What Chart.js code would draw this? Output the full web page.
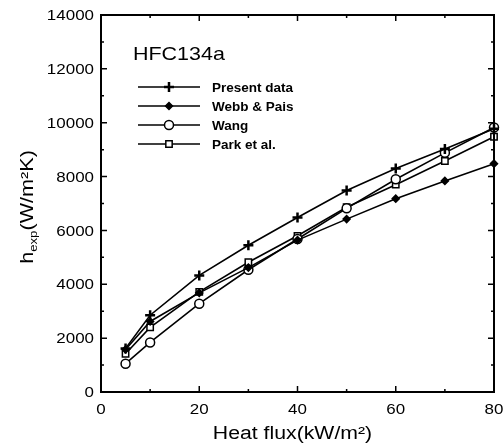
<!DOCTYPE html>
<html>
<head>
<meta charset="utf-8">
<script src="https://cdn.jsdelivr.net/npm/chart.js@4"></script>
<style>
  html, body { margin: 0; padding: 0; background: #fff; }
  #wrap { width: 504px; height: 445px; }
</style>
</head>
<body>
<div id="wrap"><canvas id="chart" width="504" height="445"></canvas></div>
<script>
// heat flux (kW/m2)
const heatFlux = [5, 10, 20, 30, 40, 50, 60, 70, 80];
// heat transfer coefficient (W/m2K)
const presentData = [1620, 2850, 4330, 5450, 6480, 7480, 8300, 9020, 9780];
const webbPais = [1580, 2620, 3680, 4620, 5640, 6420, 7180, 7840, 8480];
const wang = [1050, 1840, 3280, 4540, 5680, 6820, 7900, 8880, 9820];
const parkEtAl = [1420, 2400, 3720, 4820, 5800, 6860, 7700, 8580, 9480];

const xTicks = [0, 20, 40, 60, 80];
const yTicks = [0, 2000, 4000, 6000, 8000, 10000, 12000, 14000];

const FONT = 'Liberation Sans, Arial, sans-serif';

function points(ys) {
    return heatFlux.map((x, i) => ({ x: x, y: ys[i] }));
}

const datasets = [
    { label: 'Present data', data: points(presentData), pointStyle: 'cross', pointRadius: 5, pointBorderWidth: 2.5, pointBackgroundColor: '#000' },
    { label: 'Webb & Pais', data: points(webbPais), pointStyle: 'rectRot', pointRadius: 3.5, pointBorderWidth: 1.5, pointBackgroundColor: '#000' },
    { label: 'Wang', data: points(wang), pointStyle: 'circle', pointRadius: 4.5, pointBorderWidth: 1.5, pointBackgroundColor: '#fff' },
    { label: 'Park et al.', data: points(parkEtAl), pointStyle: 'rect', pointRadius: 4.5, pointBorderWidth: 1.5, pointBackgroundColor: '#fff' }
].map(d => Object.assign({
    borderColor: '#000',
    pointBorderColor: '#000',
    borderWidth: 1.6,
    fill: false,
    clip: false,
    tension: 0
}, d));

// the scanned figure uses a slightly wide sans font, so text gets stretched
function wideText(ctx, str, x, y, font, sx, align, baseline) {
    ctx.save();
    ctx.font = font;
    ctx.textAlign = align;
    ctx.textBaseline = baseline || 'alphabetic';
    ctx.translate(x, y);
    ctx.scale(sx, 1);
    ctx.fillText(str, 0, 0);
    ctx.restore();
}

// frame, inward ticks, tick labels, in-plot legend, title and axis titles
const decorations = {
    id: 'decorations',
    afterDraw(chart) {
        const ctx = chart.ctx;
        const a = chart.chartArea;
        const xs = chart.scales.x;
        const ys = chart.scales.y;
        ctx.save();
        ctx.strokeStyle = '#000';
        ctx.fillStyle = '#000';

        // frame
        ctx.lineWidth = 2;
        ctx.strokeRect(a.left, a.top, a.right - a.left, a.bottom - a.top);

        // ticks
        ctx.lineWidth = 1.5;
        ctx.beginPath();
        for (let v = 0; v <= 80; v += 10) {
            const px = xs.getPixelForValue(v);
            const len = v % 20 === 0 ? 6 : 3;
            ctx.moveTo(px, a.bottom); ctx.lineTo(px, a.bottom - len);
            ctx.moveTo(px, a.top); ctx.lineTo(px, a.top + len);
        }
        for (let v = 0; v <= 14000; v += 1000) {
            const py = ys.getPixelForValue(v);
            const len = v % 2000 === 0 ? 6 : 3;
            ctx.moveTo(a.left, py); ctx.lineTo(a.left + len, py);
            ctx.moveTo(a.right, py); ctx.lineTo(a.right - len, py);
        }
        ctx.stroke();

        // tick labels
        const tickFont = '15px ' + FONT;
        xTicks.forEach(v => {
            wideText(ctx, String(v), xs.getPixelForValue(v), a.bottom + 18, tickFont, 1.13, 'center', 'middle');
        });
        yTicks.forEach(v => {
            wideText(ctx, String(v), a.left - 7, ys.getPixelForValue(v) + 1, tickFont, 1.13, 'right', 'middle');
        });

        // title inside plot
        wideText(ctx, 'HFC134a', 133, 60, '19px ' + FONT, 1.13, 'left');

        // legend
        chart.data.datasets.forEach((ds, i) => {
            const y = 87 + i * 19;
            ctx.lineWidth = ds.borderWidth;
            ctx.beginPath();
            ctx.moveTo(138, y); ctx.lineTo(200, y);
            ctx.stroke();
            ctx.fillStyle = ds.pointBackgroundColor;
            ctx.lineWidth = ds.pointBorderWidth;
            Chart.helpers.drawPoint(ctx, {
                pointStyle: ds.pointStyle,
                radius: ds.pointRadius,
                rotation: 0,
                borderWidth: ds.pointBorderWidth
            }, 169, y);
            ctx.fillStyle = '#000';
            wideText(ctx, ds.label, 212, y + 1, 'bold 13.5px ' + FONT, 1, 'left', 'middle');
        });

        // x axis title
        wideText(ctx, 'Heat flux(kW/m\u00B2)', 292.5, 439, '18px ' + FONT, 1.18, 'center');

        // y axis title with subscript, rotated
        ctx.save();
        ctx.translate(33, 207);
        ctx.rotate(-Math.PI / 2);
        ctx.scale(1.2, 1);
        const big = '18px ' + FONT;
        const small = '11px ' + FONT;
        ctx.font = big;
        const w1 = ctx.measureText('h').width;
        const w3 = ctx.measureText('(W/m\u00B2K)').width;
        ctx.font = small;
        const w2 = ctx.measureText('exp').width;
        const x0 = -(w1 + w2 + w3) / 2;
        ctx.textAlign = 'left';
        ctx.font = big;
        ctx.fillText('h', x0, 0);
        ctx.font = small;
        ctx.fillText('exp', x0 + w1, 4);
        ctx.font = big;
        ctx.fillText('(W/m\u00B2K)', x0 + w1 + w2, 0);
        ctx.restore();

        ctx.restore();
    }
};

new Chart(document.getElementById('chart').getContext('2d'), {
    type: 'line',
    data: { datasets: datasets },
    options: {
        responsive: false,
        animation: false,
        layout: { padding: { left: 0, right: 10, top: 15, bottom: 0 } },
        plugins: {
            legend: { display: false },
            tooltip: { enabled: false }
        },
        scales: {
            x: {
                type: 'linear',
                min: 0,
                max: 80,
                grid: { display: false },
                border: { display: false },
                ticks: { display: false },
                afterFit: (s) => { s.height = 53; }
            },
            y: {
                min: 0,
                max: 14000,
                grid: { display: false },
                border: { display: false },
                ticks: { display: false },
                afterFit: (s) => { s.width = 101; }
            }
        }
    },
    plugins: [decorations]
});
</script>
</body>
</html>
